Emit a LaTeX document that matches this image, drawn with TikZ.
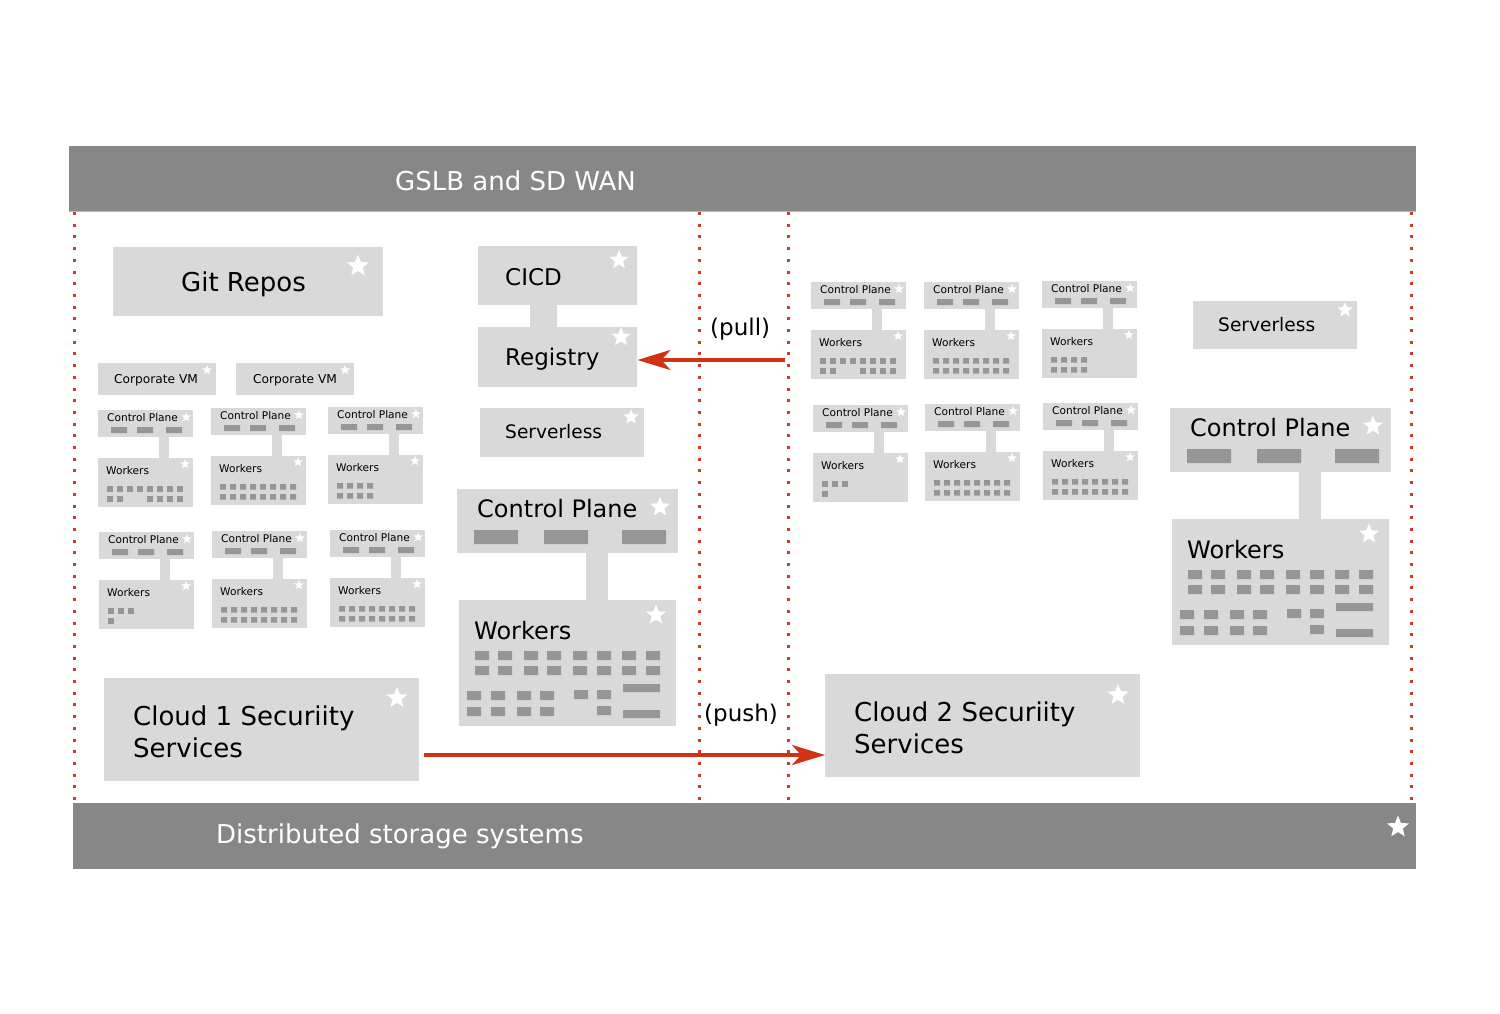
\documentclass[tikz,border=0pt]{standalone}
\usepackage{fontspec}
\setmainfont{DejaVu Sans}
\usetikzlibrary{shapes.geometric,arrows.meta}
\definecolor{boxgray}{RGB}{217,217,217}
\definecolor{sqgray}{RGB}{150,150,150}
\definecolor{bargray}{RGB}{135,135,135}
\definecolor{arrred}{RGB}{210,50,20}
\definecolor{dotred}{RGB}{205,60,40}
\tikzset{
  box/.style={fill=boxgray, draw=none, inner sep=0pt, anchor=north west},
  lab/.style={inner sep=0pt, text depth=0pt, anchor=west, text=black},
  f26/.style={lab, font=\fontsize{26}{32}\selectfont, text height=19pt},
  f24/.style={lab, font=\fontsize{24}{29}\selectfont, text height=17.5pt},
  f23/.style={lab, font=\fontsize{23}{28}\selectfont, text height=16.8pt},
  f19/.style={lab, font=\fontsize{18.6}{22}\selectfont, text height=13.6pt},
  f12/.style={lab, font=\fontsize{12.2}{14}\selectfont, text height=8.9pt},
  f10/.style={lab, font=\fontsize{10.6}{13}\selectfont, text height=7.7pt},
  star5/.style={star, star points=5, star point ratio=2.3, fill=white, draw=none, inner sep=0pt, minimum size=#1},
  sconn/.style={draw=boxgray, line width=10pt},
  bconn/.style={draw=boxgray, line width=22pt},
  dotline/.style={draw=dotred, line width=3pt, dash pattern=on 3pt off 8.7pt},
  redarr/.style={draw=arrred, line width=3.5pt, -{Stealth[length=33pt,width=20pt,inset=9pt]}}
}
\newcommand\patFull{\foreach \i in {0,...,7}{\fill[sqgray] ({9+10*\i},76) rectangle ++(6,5.5) ({9+10*\i},86) rectangle ++(6,5.5);}}
\newcommand\patGap{\foreach \i in {0,...,7}{\fill[sqgray] ({9+10*\i},76) rectangle ++(6,5.5);}\foreach \i in {0,1,4,5,6,7}{\fill[sqgray] ({9+10*\i},86) rectangle ++(6,5.5);}}
\newcommand\patFour{\foreach \i in {0,...,3}{\fill[sqgray] ({9+10*\i},76) rectangle ++(6,5.5) ({9+10*\i},86) rectangle ++(6,5.5);}}
\newcommand\patThree{\foreach \i in {0,1,2}{\fill[sqgray] ({9+10*\i},76) rectangle ++(6,5.5);}\fill[sqgray] (9,86) rectangle ++(6,5.5);}
% small cluster: name, x, y, pattern
\newcommand\smallcl[4]{%
\begin{scope}[shift={(#2,#3)}]
  \node[box, minimum width=95pt, minimum height=27pt] (#1cp) at (0,0) {};
  \node[box, minimum width=95pt, minimum height=49pt] (#1w) at (0,48) {};
  \draw[sconn] ([xshift=18pt]#1cp.south) -- ([xshift=18pt]#1w.north);
  \node[f10] (#1cpt) at (9,8) {Control Plane};
  \node[star5=10pt] (#1cps) at (88,7) {};
  \fill[sqgray] (13,17) rectangle (29,23) (39,17) rectangle (55,23) (68,17) rectangle (84,23);
  \node[f10] (#1wt) at (8,61) {Workers};
  \node[star5=10pt] (#1ws) at (87,54) {};
  #4
\end{scope}}
% big cluster: name, x, y
\newcommand\bigcl[3]{%
\begin{scope}[shift={(#2,#3)}]
  \node[box, minimum width=221pt, minimum height=64pt] (#1cp) at (0,0) {};
  \node[box, minimum width=217pt, minimum height=126pt] (#1w) at (2,111) {};
  \draw[bconn] ([xshift=29.5pt]#1cp.south) -- ([xshift=29.5pt]#1w.north);
  \node[f24] (#1cpt) at (20,19.5) {Control Plane};
  \node[star5=21pt] (#1cps) at (203,18) {};
  \fill[sqgray] (17,41) rectangle (61,55) (87,41) rectangle (131,55) (165,41) rectangle (209,55);
  \node[f24] (#1wt) at (17,142) {Workers};
  \node[star5=21pt] (#1ws) at (199,126) {};
  \foreach \x in {18,41,67,90,116,140,165,189}{\fill[sqgray] (\x,162) rectangle ++(14,9) (\x,177) rectangle ++(14,9);}
  \foreach \x in {10,34,60,83}{\fill[sqgray] (\x,202) rectangle ++(14,9) (\x,218) rectangle ++(14,9);}
  \fill[sqgray] (117,201) rectangle ++(14,9) (140,201) rectangle ++(14,9) (140,217) rectangle ++(14,9);
  \fill[sqgray] (166,195) rectangle (203,203) (166,221) rectangle (203,229);
\end{scope}}
\begin{document}
\begin{tikzpicture}[x=1pt,y=-1pt]
\useasboundingbox (0,0) rectangle (1500,1013);
\fill[white] (0,0) rectangle (1500,1013);

% bars
\node[box, fill=bargray, minimum width=1347pt, minimum height=65pt] (gslb) at (69,146) {};
\draw[draw=gray!55, line width=1.5pt] (gslb.south west) -- (gslb.south east);
\node[f26, anchor=center, text=white] (gslbt) at (515.5,181) {GSLB and SD WAN};
\node[box, fill=bargray, minimum width=1343pt, minimum height=66pt] (dss) at (73,803) {};
\node[f26, text=white] (dsst) at (216,833.5) {Distributed storage systems};
\node[star5=23pt] (dsss) at (1398,827) {};

% dotted separators
\foreach \x/\n in {74/a,699/b,788/c,1411/d}{
  \coordinate (dt\n) at (\x,212);
  \coordinate (db\n) at (\x,803);
  \draw[dotline] (dt\n) -- (db\n);
}

% Git repos
\node[box, minimum width=270pt, minimum height=69pt] (git) at (113,247) {};
\node[f26, anchor=center] (gitt) at (243.5,282) {Git Repos};
\node[star5=23pt] (gits) at (358,266) {};

% corporate VMs
\node[box, minimum width=118pt, minimum height=32pt] (vm1) at (98,363) {};
\node[f12] (vm1t) at (114,379) {Corporate VM};
\node[star5=10pt] (vm1s) at (207,370) {};
\node[box, minimum width=118pt, minimum height=32pt] (vm2) at (236,363) {};
\node[f12] (vm2t) at (253,379) {Corporate VM};
\node[star5=10pt] (vm2s) at (345,370) {};

% CICD / Registry
\node[box, minimum width=159pt, minimum height=59pt] (cicd) at (478,246) {};
\node[box, minimum width=159pt, minimum height=60pt] (reg) at (478,327) {};
\draw[draw=boxgray, line width=27pt] ([xshift=-14pt]cicd.south) -- ([xshift=-14pt]reg.north);
\node[f23] (cicdt) at (505,277) {CICD};
\node[star5=20pt] (cicds) at (619,260) {};
\node[f23] (regt) at (505,357.5) {Registry};
\node[star5=20pt] (regs) at (621,337) {};

% serverless
\node[box, minimum width=164pt, minimum height=49pt] (sl1) at (480,408) {};
\node[f19] (sl1t) at (505,432) {Serverless};
\node[star5=16pt] (sl1s) at (631,417) {};
\node[box, minimum width=164pt, minimum height=48pt] (sl2) at (1193,301) {};
\node[f19] (sl2t) at (1218,325) {Serverless};
\node[star5=16pt] (sl2s) at (1345,310) {};

% small clusters
\smallcl{aa}{98}{410}{\patGap}
\smallcl{ab}{211}{408}{\patFull}
\smallcl{ac}{328}{407}{\patFour}
\smallcl{ba}{99}{532}{\patThree}
\smallcl{bb}{212}{531}{\patFull}
\smallcl{bc}{330}{530}{\patFull}
\smallcl{ca}{811}{282}{\patGap}
\smallcl{cb}{924}{282}{\patFull}
\smallcl{cc}{1042}{281}{\patFour}
\smallcl{da}{813}{405}{\patThree}
\smallcl{db}{925}{404}{\patFull}
\smallcl{dc}{1043}{403}{\patFull}

% big clusters
\bigcl{m}{457}{489}
\bigcl{r}{1170}{408}

% security services
\node[box, minimum width=315pt, minimum height=103pt] (c1) at (104,678) {};
\node[lab, anchor=north west, align=left, font=\fontsize{26}{32}\selectfont, text height=] (c1t) at (133,705.3) {Cloud 1 Securiity\\Services};
\node[star5=22pt] (c1s) at (397,698) {};
\node[box, minimum width=315pt, minimum height=103pt] (c2) at (825,674) {};
\node[lab, anchor=north west, align=left, font=\fontsize{26}{32}\selectfont, text height=] (c2t) at (854,701.3) {Cloud 2 Securiity\\Services};
\node[star5=22pt] (c2s) at (1118,695) {};

% arrows
\coordinate (pullstart) at (785,360);
\draw[redarr] (pullstart) -- (reg.east |- pullstart);
\node[f23] (pullt) at (710,327) {(pull)};
\coordinate (pushy) at (0,755);
\draw[redarr, shorten <=5pt] (c1.east |- pushy) -- (c2.west |- pushy);
\node[f23] (pusht) at (704,713) {(push)};
\end{tikzpicture}
\end{document}
